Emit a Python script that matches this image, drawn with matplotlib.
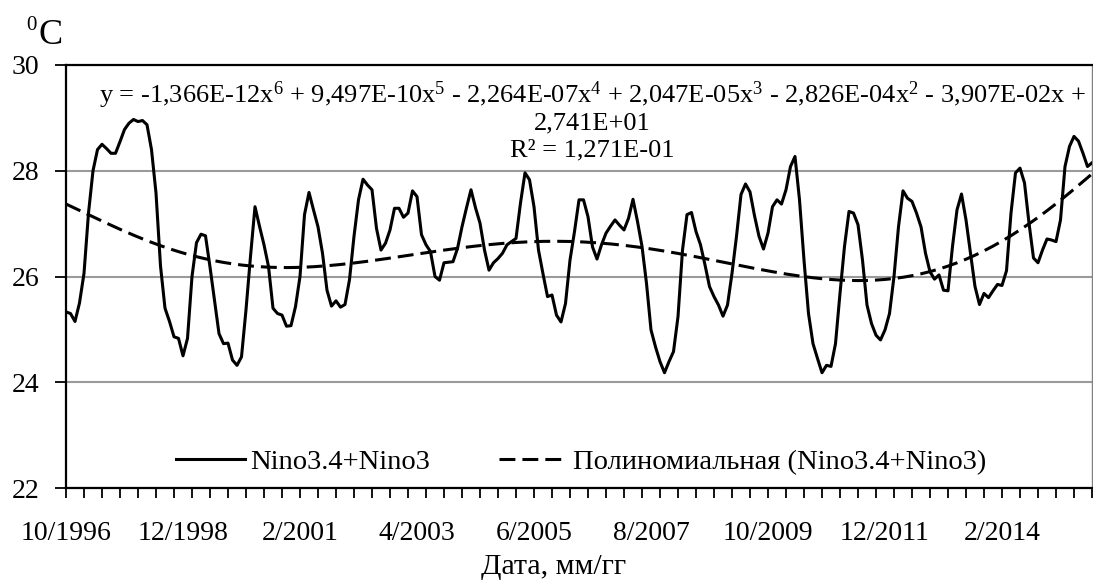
import numpy as np
import matplotlib
matplotlib.use("Agg")
import matplotlib.pyplot as plt
from matplotlib.ticker import FixedLocator, NullFormatter

plt.rcParams["font.family"] = ["Liberation Serif", "DejaVu Serif"]
plt.rcParams["mathtext.fontset"] = "custom"
plt.rcParams["mathtext.rm"] = "Liberation Serif"
plt.rcParams["mathtext.it"] = "Liberation Serif"

# monthly SST, Nino3.4+Nino3 average, 10/1996 .. 10/2015
sst = [
    25.33, 25.30, 25.15, 25.50, 26.06, 27.20, 28.00, 28.40, 28.50, 28.42,
    28.33, 28.33, 28.55, 28.78, 28.90, 28.97, 28.93, 28.95, 28.87, 28.40,
    27.58, 26.20, 25.40, 25.15, 24.86, 24.83, 24.50, 24.83, 26.00, 26.64,
    26.80, 26.77, 26.18, 25.55, 24.92, 24.73, 24.74, 24.42, 24.32, 24.48,
    25.37, 26.38, 27.32, 26.95, 26.60, 26.19, 25.40, 25.30, 25.27, 25.06,
    25.07, 25.43, 26.00, 27.17, 27.59, 27.26, 26.94, 26.44, 25.74, 25.44,
    25.54, 25.42, 25.47, 25.94, 26.76, 27.45, 27.84, 27.73, 27.64, 26.91,
    26.50, 26.63, 26.88, 27.29, 27.29, 27.12, 27.20, 27.62, 27.51, 26.79,
    26.60, 26.47, 26.00, 25.93, 26.26, 26.27, 26.28, 26.53, 26.94, 27.30,
    27.64, 27.30, 27.01, 26.50, 26.12, 26.26, 26.34, 26.44, 26.60, 26.66,
    26.72, 27.39, 27.96, 27.83, 27.32, 26.50, 26.05, 25.62, 25.65, 25.27,
    25.14, 25.49, 26.31, 26.85, 27.45, 27.45, 27.13, 26.56, 26.33, 26.60,
    26.82, 26.95, 27.07, 26.97, 26.88, 27.10, 27.46, 27.04, 26.57, 25.87,
    24.99, 24.67, 24.39, 24.18, 24.39, 24.58, 25.24, 26.50, 27.17, 27.21,
    26.85, 26.60, 26.22, 25.81, 25.62, 25.46, 25.25, 25.46, 26.06, 26.76,
    27.55, 27.75, 27.60, 27.15, 26.76, 26.52, 26.82, 27.32, 27.45, 27.37,
    27.64, 28.08, 28.27, 27.45, 26.31, 25.30, 24.73, 24.45, 24.18, 24.32,
    24.30, 24.73, 25.68, 26.57, 27.23, 27.20, 26.98, 26.31, 25.46, 25.11,
    24.89, 24.80, 24.99, 25.30, 26.00, 26.94, 27.62, 27.48, 27.42, 27.20,
    26.94, 26.44, 26.09, 25.95, 26.03, 25.74, 25.73, 26.57, 27.26, 27.56,
    27.07, 26.44, 25.81, 25.47, 25.68, 25.60, 25.73, 25.85, 25.83, 26.11,
    27.20, 27.96, 28.05, 27.77, 27.01, 26.35, 26.26, 26.50, 26.71, 26.69,
    26.66, 27.07, 28.08, 28.46, 28.65, 28.56, 28.33, 28.08, 28.15,
]

# Excel trend line coefficients (x = 1, 2, ...), highest power first
trend_coef = [-1.366e-12, 9.497e-10, -2.264e-07, 2.047e-05, -2.826e-04, -3.907e-02, 2.741e01]

date_labels = ["10/1996", "12/1998", "2/2001", "4/2003", "6/2005",
               "8/2007", "10/2009", "12/2011", "2/2014"]
label_step = 26
tick_step = 4

x = np.arange(len(sst))
trend = np.polyval(trend_coef, x + 1)

W, H = 1093, 586
fig = plt.figure(figsize=(W / 100, H / 100), dpi=100)
ax = fig.add_axes([66 / W, (H - 488) / H, 1026 / W, 423 / H])

ax.plot(x, sst, color="black", lw=2.2, label="Nino3.4+Nino3", zorder=3)
ax.plot(x, trend, color="black", lw=2.2, ls=(0, (5.2, 2.3)),
        label="Полиномиальная (Nino3.4+Nino3)", zorder=3)

ax.set_xlim(0, len(sst) - 1)
ax.set_ylim(22, 30)
ax.set_yticks(np.arange(22, 31, 2))
ax.yaxis.grid(True, color="#9a9a9a", lw=1.5)
ax.set_axisbelow(True)
ax.tick_params(axis="y", labelsize=20, length=8, width=1.3, pad=11, direction="out")

# small ticks every 4 months, labels every 26 months
ax.xaxis.remove_overlapping_locs = False
ax.xaxis.set_major_locator(FixedLocator(np.arange(0, len(sst), tick_step)))
ax.xaxis.set_major_formatter(NullFormatter())
ax.xaxis.set_minor_locator(FixedLocator(np.arange(len(date_labels)) * label_step))
ax.set_xticklabels(date_labels, minor=True)
ax.tick_params(axis="x", which="major", length=7, width=1.3, direction="out")
ax.tick_params(axis="x", which="minor", length=0, labelsize=20, pad=24)

for side in ["left", "bottom", "top"]:
    ax.spines[side].set_linewidth(1.6)
    ax.spines[side].set_color("black")
ax.spines["right"].set_linewidth(1.0)
ax.spines["right"].set_color("#808080")

fig.text(554 / W, 1 - 567 / H, "Дата, мм/гг", fontsize=21.5, ha="center", va="center")

fig.text(26 / W, 1 - 16 / H, "0", fontsize=15, ha="left", va="top")
fig.text(38 / W, 1 - 36 / H, "C", fontsize=26, ha="left", va="center")

eq1 = ("y = -1,366E-12x$^{6}$ + 9,497E-10x$^{5}$ - 2,264E-07x$^{4}$ + "
       "2,047E-05x$^{3}$ - 2,826E-04x$^{2}$ - 3,907E-02x +")
ax.text(0.513, 1 - 30 / 423, eq1, transform=ax.transAxes, fontsize=19,
        ha="center", va="center")
ax.text(0.513, 1 - 58 / 423, "2,741E+01", transform=ax.transAxes, fontsize=19,
        ha="center", va="center")
ax.text(0.513, 1 - 85 / 423, "R² = 1,271E-01", transform=ax.transAxes, fontsize=19,
        ha="center", va="center")

ax.legend(loc="center", bbox_to_anchor=(0.502, 26 / 423), ncol=2, frameon=False,
          fontsize=20.5, handlelength=2.4, handletextpad=0.2, columnspacing=2.4,
          borderaxespad=0, borderpad=0)

fig.savefig("out.png", dpi=100)
